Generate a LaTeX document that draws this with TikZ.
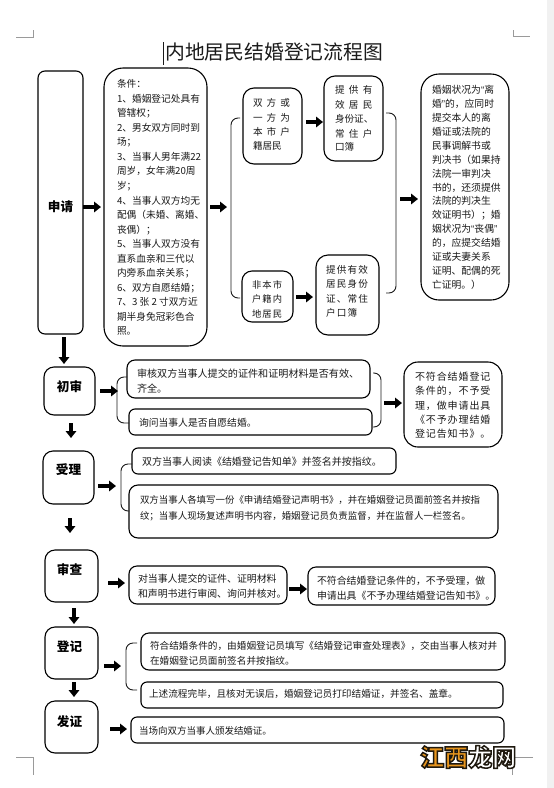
\documentclass[tikz,border=0pt]{standalone}
\usepackage{fontspec}
\setmainfont{Noto Sans CJK SC}
\newfontfamily\latq{Liberation Sans}
\usetikzlibrary{arrows.meta}
\definecolor{inkc}{HTML}{1A1A1A}
\definecolor{stripc}{HTML}{F1F1F1}
\definecolor{markc}{HTML}{9A9A9A}
\definecolor{wmfill}{HTML}{E8961E}
\tikzset{
  boxs/.style={draw=black,line width=1.1pt,inner sep=0pt,outer sep=0pt,fill=white},
  txts/.style={inner sep=0pt,outer sep=0pt,text=inkc,anchor=base west},
  heads/.style={inner sep=0pt,outer sep=0pt,text=black,font=\fontsize{12.6pt}{14pt}\selectfont\bfseries},
  barrow/.style={line width=4.6pt,draw=black,-{Triangle[length=7pt,width=10.5pt]}},
  brack/.style={draw=inkc,line width=.9pt,rounded corners=7pt},
  marks/.style={draw=markc,line width=.6pt},
}
% name, x1,y1,x2,y2, radius
\newcommand\bx[6]{\node[boxs,rounded corners=#6pt,minimum width={(#4-#2)*1pt},minimum height={(#5-#3)*1pt}] (#1) at ({(#2+#4)/2},{(#3+#5)/2}) {};}
% [letterspace] name, x, y centre of first line, pitch, size, lines
\newcommand\tl[7][0]{\node[txts] (#2) at (#3,#4+3.6) {\fontsize{#6pt}{#5pt}\selectfont\addfontfeature{LetterSpace=#1}\begin{tabular}[t]{@{}l@{}}#7\end{tabular}};}
% from, to, y, gap at start, gap at end
\newcommand\ha[5]{\draw[barrow,shorten <=#4pt,shorten >=#5pt] (#1.east |- 0,#3) -- (#2.west |- 0,#3);}
% from, to, x, gap at start, gap at end
\newcommand\va[5]{\draw[barrow,shorten <=#4pt,shorten >=#5pt] (#1.south -| #3,0) -- (#2.north -| #3,0);}
\newcommand\oqm{{\latq “}}
\newcommand\cqm{{\latq ”}}
\newcommand\wmstroke{\special{pdf:code 2 Tr 1.5 w 0.12 0.10 0.06 RG}}
\newcommand\wmreset{\special{pdf:code 0 Tr}}
\begin{document}
\begin{tikzpicture}[x=1pt,y=-1pt]
\useasboundingbox (0,0) rectangle (554,788);
\fill[white] (0,0) rectangle (554,788);
\fill[stripc] (547,0) rectangle (554,788);
% crop marks
\draw[marks] (16,37) -- (33,37) -- (33,30);
\draw[marks] (513,30) -- (513,36) -- (530,36);
\draw[marks] (16,757) -- (33,757) -- (33,775);
\draw[marks] (533,757) -- (512,757) -- (512,775);
% title
\draw[line width=1.4pt,draw=inkc] (163.5,42) -- (163.5,65);
\node[inner sep=0pt,anchor=west,text=inkc,font=\fontsize{19.8pt}{22pt}\selectfont] (title) at (165,52) {内地居民结婚登记流程图};
% main boxes
\bx{sq}{38}{71}{83}{334}{7}
\bx{tj}{104}{68}{207}{346}{19}
\bx{sf}{243}{88}{302}{164}{11}
\bx{tg}{324}{76}{383}{161}{11}
\bx{fb}{242}{271}{293}{322}{10}
\bx{tx}{316}{255}{379}{335}{12}
\bx{hy}{421}{74}{509}{300}{18}
\bx{cs}{44}{367}{95}{415}{10}
\bx{sh}{127}{360}{370}{398}{8}
\bx{xw}{129}{409}{372}{435}{6}
\bx{bf}{404}{362}{502}{447}{14}
\bx{sl}{43}{451}{94}{504}{10}
\bx{yd}{132}{448}{396}{474}{6}
\bx{tx2}{129}{485}{498}{538}{9}
\bx{sc}{45}{550}{98}{602}{10}
\bx{dz}{129}{566}{287}{604}{8}
\bx{bf2}{308}{567}{495}{605}{8}
\bx{dj}{45}{627}{98}{679}{10}
\bx{fh}{141}{633}{505}{670}{8}
\bx{ss}{141}{682}{503}{708}{6}
\bx{fz}{45}{701}{98}{753}{10}
\bx{dc}{131}{717}{504}{743}{6}
% step names
\node[heads] (sqt) at (60.5,207) {申请};
\node[heads] (cst) at (69.5,387) {初审};
\node[heads] (slt) at (68.5,470) {受理};
\node[heads] (sct) at (69.5,570) {审查};
\node[heads] (djt) at (69.5,647) {登记};
\node[heads] (fzt) at (69.5,722) {发证};
% texts
\tl{tjt}{117}{84}{14.55}{9.7}{条件：\\1、婚姻登记处具有\\管辖权；\\2、男女双方同时到\\场；\\3、当事人男年满22\\周岁，女年满20周\\岁；\\4、当事人双方均无\\配偶（未婚、离婚、\\丧偶）；\\5、当事人双方没有\\直系血亲和三代以\\内旁系血亲关系；\\6、双方自愿结婚；\\7、3 张 2 寸双方近\\期半身免冠彩色合\\照。}
\tl[42]{sft}{253}{103}{14.4}{9.6}{双方或\\一方为\\本市户}
\tl{sft2}{253}{146}{14.4}{9.6}{籍居民}
\tl[45]{tgt}{335}{90}{14.4}{9.6}{提供有\\效居民}
\tl{tgt2}{335}{119}{14.4}{9.6}{身份证、}
\tl[45]{tgt3}{335}{134}{14.4}{9.6}{常住户}
\tl{tgt4}{335}{147}{14.4}{9.6}{口簿}
\tl[12]{fbt}{252}{285}{14.2}{9.3}{非本市\\户籍内\\地居民}
\tl[12]{txt}{326}{270}{14.3}{9.6}{提供有效\\居民身份\\证、常住\\户口簿}
\tl{hyt}{432}{90}{13.92}{9.8}{婚姻状况为\oqm 离\\婚\cqm 的，应同时\\提交本人的离\\婚证或法院的\\民事调解书或\\判决书（如果持\\法院一审判决\\书的，还须提供\\法院的判决生\\效证明书）；婚\\姻状况为\oqm 丧偶\cqm\\的，应提交结婚\\证或夫妻关系\\证明、配偶的死\\亡证明。）}
\tl{sht}{137}{374}{14.4}{10.1}{审核双方当事人提交的证件和证明材料是否有效、\\齐全。}
\tl{xwt}{139}{423}{14}{9.8}{询问当事人是否自愿结婚。}
\tl[9]{bft}{415}{377}{14.3}{10}{不符合结婚登记\\条件的，不予受\\理，做申请出具\\《不予办理结婚\\登记告知书》。}
\tl{ydt}{142}{462}{14}{10}{双方当事人阅读《结婚登记告知单》并签名并按指纹。}
\tl{tx2t}{140}{500}{16}{9.45}{双方当事人各填写一份《申请结婚登记声明书》，并在婚姻登记员面前签名并按指\\纹；当事人现场复述声明书内容，婚姻登记员负责监督，并在监督人一栏签名。}
\tl{dzt}{138}{579}{15}{9.9}{对当事人提交的证件、证明材料\\和声明书进行审阅、询问并核对。}
\tl{bf2t}{317}{581}{14.5}{9.9}{不符合结婚登记条件的，不予受理，做\\申请出具《不予办理结婚登记告知书》。}
\tl{fht}{150}{646}{15}{9.65}{符合结婚条件的，由婚姻登记员填写《结婚登记审查处理表》，交由当事人核对并\\在婚姻登记员面前签名并按指纹。}
\tl{sst}{149}{694}{14}{9.65}{上述流程完毕，且核对无误后，婚姻登记员打印结婚证，并签名、盖章。}
\tl{dct}{139}{731}{14}{9.5}{当场向双方当事人颁发结婚证。}
% brackets
\draw[brack] (240,118) -- (231,118) -- (231,298) -- (240,298);
\draw[brack] (386,113) -- (396,113) -- (396,293) -- (386,293);
\draw[brack] (127,377) -- (117,377) -- (117,423) -- (129,423);
\draw[brack] (373,373) -- (381,373) -- (381,427) -- (373,427);
\draw[brack] (132,464) -- (121,464) -- (121,511) -- (129,511);
\draw[brack] (137,643) -- (126,643) -- (126,690) -- (137,690);
% arrows
\ha{sq}{tj}{207}{0}{3}
\ha{tj}{sf}{207}{3}{16}
\ha{sf}{tg}{122}{4}{1}
\ha{fb}{tx}{297}{3}{3}
\ha{tg}{hy}{199}{17}{3}
\ha{cs}{sh}{391}{5}{9}
\ha{sh}{bf}{403}{14}{2}
\ha{sl}{yd}{486}{4}{16}
\ha{sc}{dz}{583}{10}{4}
\ha{dz}{bf2}{589}{2}{1}
\ha{dj}{fh}{666}{6}{20}
\ha{fz}{dc}{729}{12}{4}
\va{sq}{cs}{64}{3}{3}
\va{cs}{sl}{71}{8}{13}
\va{sl}{sc}{70}{14}{17}
\va{sc}{dj}{74}{6}{3}
\va{dj}{fz}{74}{3}{4}
% watermark
\node[inner sep=0pt,anchor=west,font=\fontsize{24pt}{26pt}\selectfont\bfseries] (wm) at (420,757) {\textcolor{wmfill}{\wmstroke 江西}\textcolor{white}{\wmstroke 龙网\wmreset}};
\end{tikzpicture}
\end{document}
